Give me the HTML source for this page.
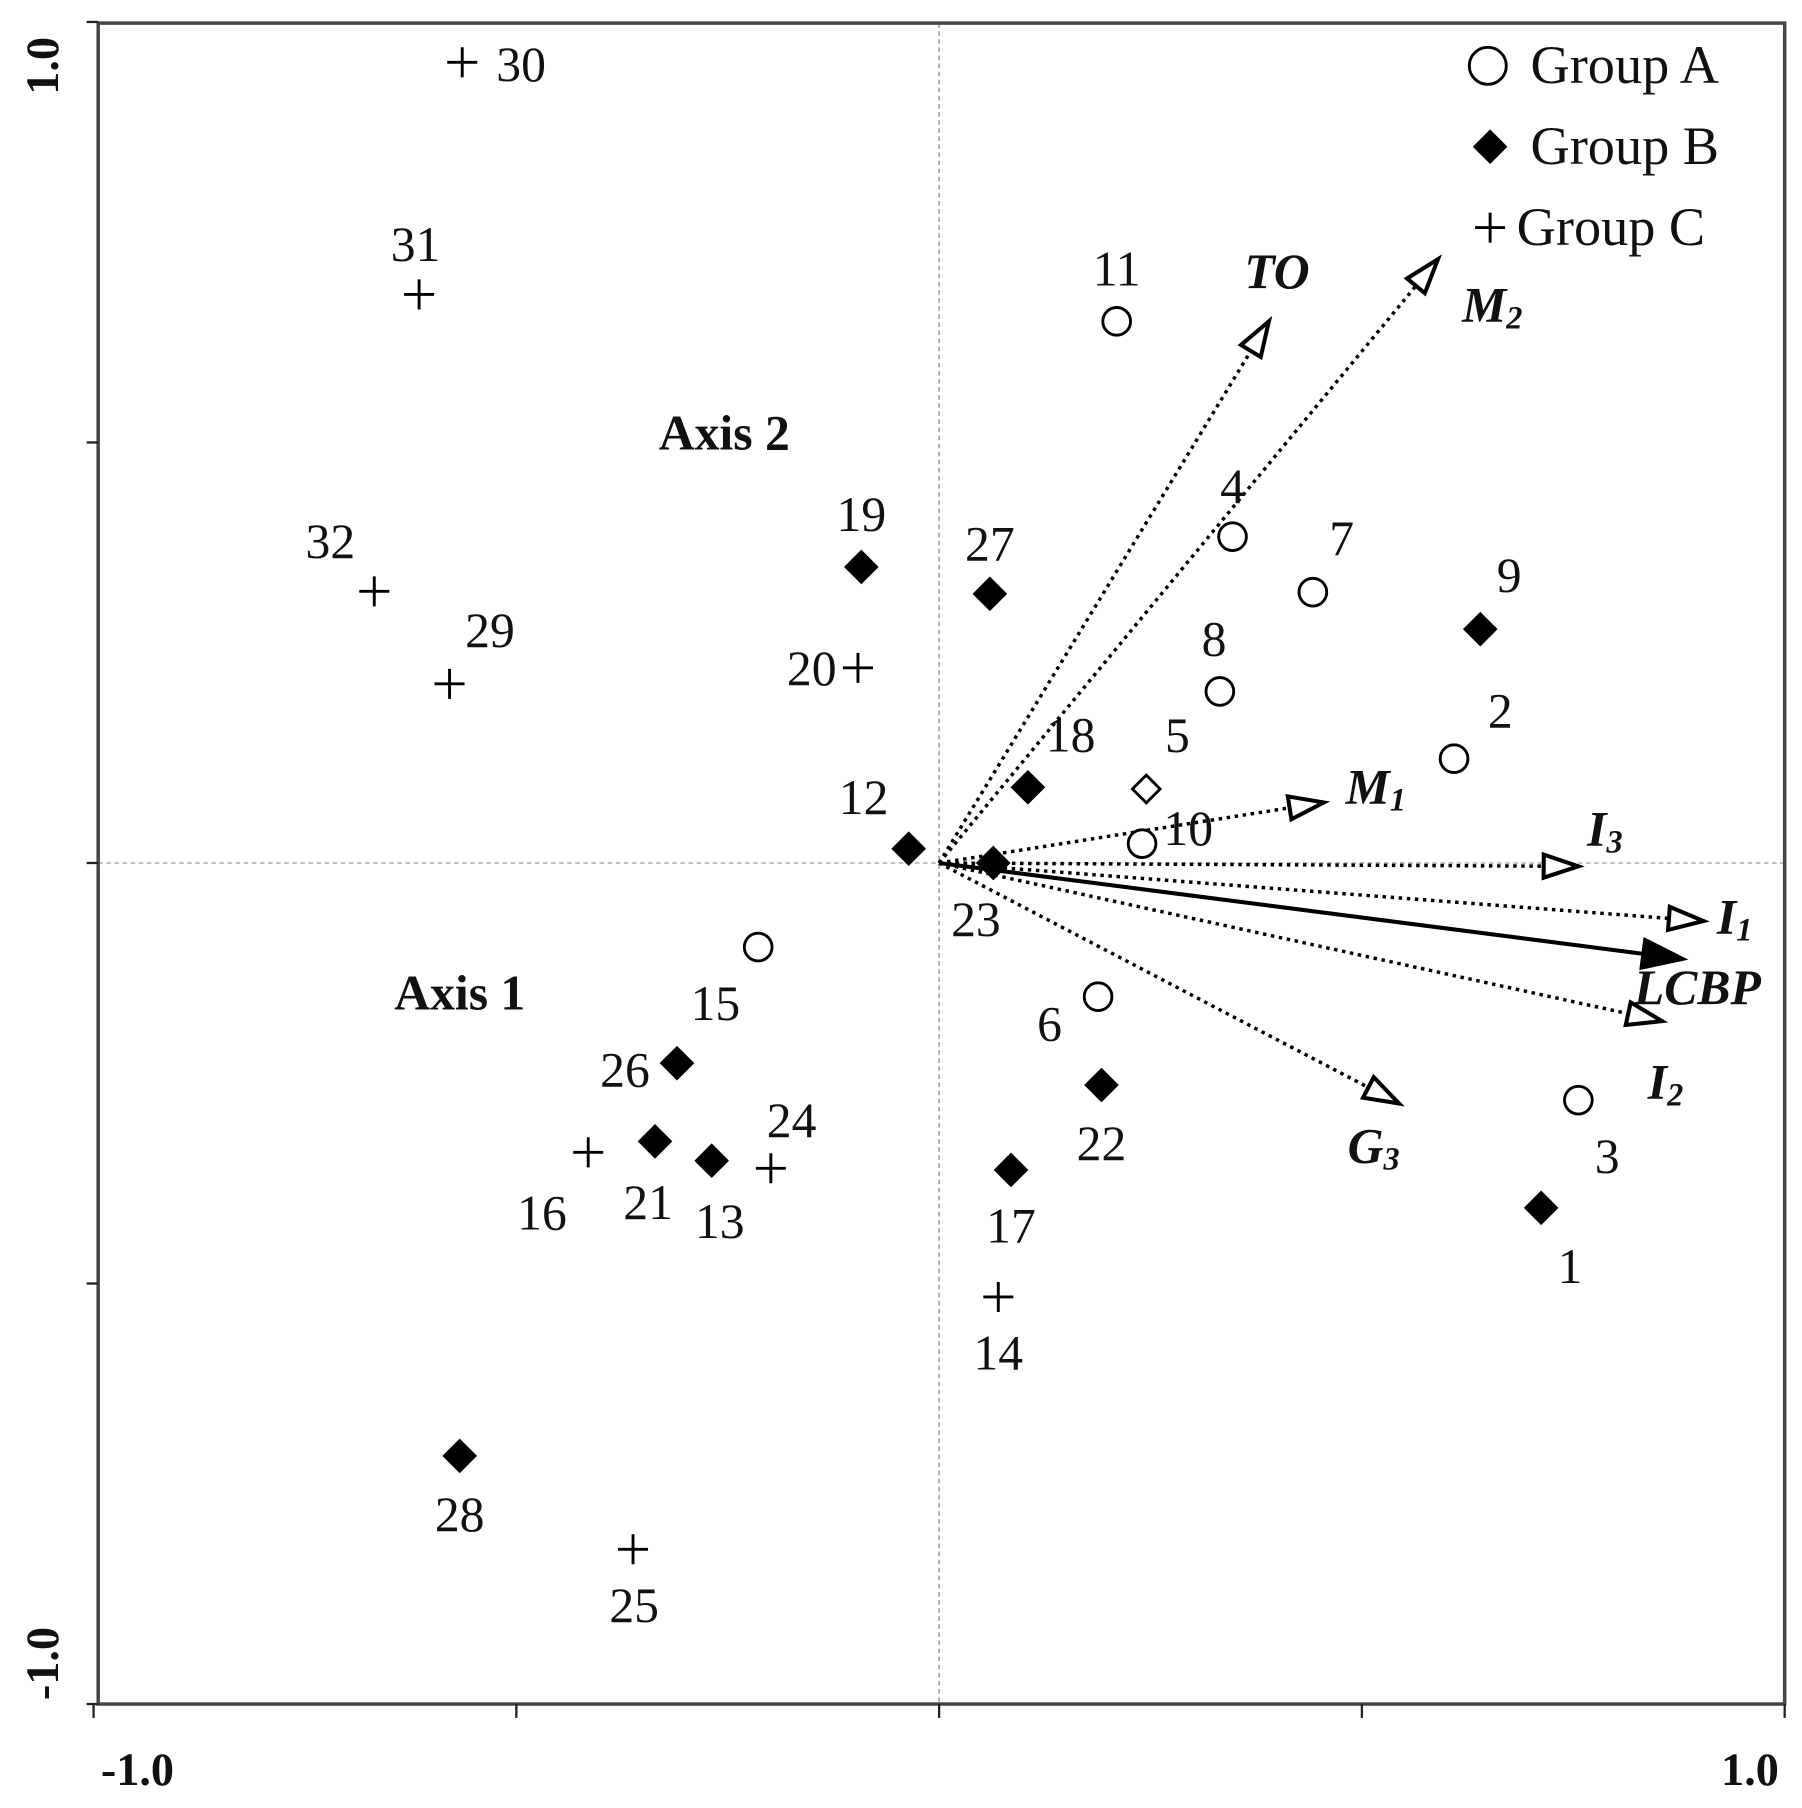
<!DOCTYPE html>
<html><head><meta charset="utf-8"><style>
html,body{margin:0;padding:0;background:#fff;}
svg{display:block;}
text{font-family:"Liberation Serif",serif;fill:#111;}
</style></head><body>
<svg id="chart" width="1802" height="1808" viewBox="0 0 1560 1565" preserveAspectRatio="none" xmlns="http://www.w3.org/2000/svg">
<g id="axes"></g>
<g id="vectors"></g>
<g id="points"></g>
<g id="legend"></g>
</svg>
<script>
// ---- data ----
const ptLabels = ["11","4","7","8","2","10","15","6","3","5","19","27","9","18","12","23","26","22","21","13","17","1","28","30","31","32","29","20","16","24","14","25"];
const ptGroups = ["A","A","A","A","A","A","A","A","A","D","B","B","B","B","B","B","B","B","B","B","B","B","B","C","C","C","C","C","C","C","C","C"];
const ptX = [0.21,0.347,0.442,0.332,0.609,0.24,-0.214,0.188,0.756,0.245,-0.092,0.060,0.640,0.105,-0.036,0.064,-0.310,0.192,-0.336,-0.269,0.085,0.712,-0.567,-0.564,-0.615,-0.668,-0.579,-0.096,-0.415,-0.199,0.070,-0.362];
const ptY = [0.644,0.388,0.322,0.204,0.124,0.023,-0.100,-0.159,-0.282,0.088,0.352,0.320,0.278,0.090,0.017,0.0,-0.238,-0.264,-0.331,-0.354,-0.365,-0.410,-0.705,0.952,0.676,0.323,0.213,0.232,-0.344,-0.363,-0.516,-0.816];
const vecNames = ["TO","M2","M1","I3","I1","LCBP","I2","G3"];
const vecX = [0.390,0.590,0.455,0.756,0.904,0.879,0.855,0.544];
const vecY = [0.644,0.718,0.072,-0.004,-0.069,-0.114,-0.188,-0.286];
const tickVals = [-1,-0.5,0,0.5,1];
const tickLabels = ["-1.0","1.0"];
// ---- layout (not data) ----
const L=85,R=1545,T=20,B=1475,CX=813,CY=747;
const sx=v=>CX+v*(R-CX), sy=v=>CY-v*(B-CY);
const labOff = {"11":[0,-34],"4":[0,-32],"7":[25,-35],"8":[-5,-34],"2":[40,-30],"10":[40,-2],"15":[-37,60],"6":[-42,35],"3":[25,60],"5":[27,-35],
"19":[0,-34],"27":[0,-32],"9":[25,-35],"18":[37,-34],"12":[-39,-33],"23":[-15,60],"26":[-45,17],"22":[0,62],"21":[-6,64],"13":[7,64],"17":[0,60],"1":[25,62],"28":[0,62],
"30":[51,13],"31":[-3,-32],"32":[-38,-32],"29":[35,-35],"20":[-40,12],"16":[-40,64],"24":[18,-30],"14":[0,60],"25":[1,60]};
const vecLab = {"TO":[7,-25],"M2":[47,58],"M1":[45,5],"I3":[23,-14],"I1":[27,15],"LCBP":[13,43],"I2":[3,71],"G3":[-22,55]};
const NS="http://www.w3.org/2000/svg";
function mk(tag,attrs,parent){const e=document.createElementNS(NS,tag);for(const k in attrs)e.setAttribute(k,attrs[k]);parent.appendChild(e);return e;}
const ax=document.getElementById('axes');
let z=mk('line',{x1:sx(0),x2:sx(0),y1:T,y2:B,stroke:'#999','stroke-width':1.3,'stroke-dasharray':'4,3'},ax);


z=mk('line',{x1:L,x2:R,y1:sy(0),y2:sy(0),stroke:'#aaa','stroke-width':1.3,'stroke-dasharray':'4,3'},ax);


let fr=mk('rect',{x:L,y:T,width:R-L,height:B-T,fill:'none',stroke:'#444','stroke-width':3},ax);


tickVals.forEach(v=>{
 let t=mk('line',{x1:sx(v),x2:sx(v),y1:B,y2:B+12,stroke:'#222','stroke-width':2},ax);
 
 
 t=mk('line',{x1:L-10,x2:L,y1:sy(v),y2:sy(v),stroke:'#222','stroke-width':2},ax);
 
 
});
let tl=mk('text',{x:sx(-1)+38,y:B+70,'font-size':40,'font-weight':'bold','text-anchor':'middle'},ax);tl.textContent=tickLabels[0];


tl=mk('text',{x:sx(1)-30,y:B+70,'font-size':40,'font-weight':'bold','text-anchor':'middle'},ax);tl.textContent=tickLabels[1];


tl=mk('text',{x:0,y:0,'font-size':40,'font-weight':'bold','text-anchor':'middle',transform:`translate(50,${sy(1)+38}) rotate(-90)`},ax);tl.textContent=tickLabels[1];


tl=mk('text',{x:0,y:0,'font-size':40,'font-weight':'bold','text-anchor':'middle',transform:`translate(50,${sy(-1)-35}) rotate(-90)`},ax);tl.textContent=tickLabels[0];


let at=mk('text',{x:627,y:389,'font-size':43,'font-weight':'bold','text-anchor':'middle'},ax);at.textContent='Axis 2';


at=mk('text',{x:398,y:874,'font-size':43,'font-weight':'bold','text-anchor':'middle'},ax);at.textContent='Axis 1';


const vg=document.getElementById('vectors');
const subs={"M2":["M","2"],"M1":["M","1"],"I3":["I","3"],"I1":["I","1"],"I2":["I","2"],"G3":["G","3"]};
vecNames.forEach((n,i)=>{
 const x2=sx(vecX[i]),y2=sy(vecY[i]),x1=sx(0),y1=sy(0);
 const solid=n==="LCBP";
 const ang=Math.atan2(y2-y1,x2-x1);
 const hl=solid?34:30,hw=solid?12:10;
 const bx=x2-hl*Math.cos(ang),by=y2-hl*Math.sin(ang);
 let ln=mk('line',{x1:x1,y1:y1,x2:bx,y2:by,stroke:'#000','stroke-width':solid?3.5:3,'stroke-dasharray':solid?'none':'3,4'},vg);
 
 
 const px=-Math.sin(ang),py=Math.cos(ang);
 let hd=mk('polygon',{points:`${x2},${y2} ${bx+px*hw},${by+py*hw} ${bx-px*hw},${by-py*hw}`,fill:solid?'#000':'#fff',stroke:'#000','stroke-width':3.5},vg);
 
 
 const o=vecLab[n];
 let t=mk('text',{x:x2+o[0],y:y2+o[1]-4,'font-size':43,'font-style':'italic','font-weight':'bold','text-anchor':'middle'},vg);
 if(subs[n]){t.textContent=subs[n][0];const s=mk('tspan',{'font-size':28,dy:6},t);s.textContent=subs[n][1];}
 else t.textContent=n;
 
 
});
const pg=document.getElementById('points');
function marker(g,x,y,parent){
 let e;
 if(g==="A") e=mk('circle',{cx:x,cy:y,r:12,fill:'#fff',stroke:'#000','stroke-width':2.5},parent);
 else if(g==="B") e=mk('polygon',{points:`${x},${y-15} ${x+15},${y} ${x},${y+15} ${x-15},${y}`,fill:'#000'},parent);
 else if(g==="D") e=mk('polygon',{points:`${x},${y-12} ${x+12},${y} ${x},${y+12} ${x-12},${y}`,fill:'#fff',stroke:'#000','stroke-width':2.5},parent);
 else e=mk('path',{d:`M${x-13},${y}H${x+13}M${x},${y-13}V${y+13}`,stroke:'#000','stroke-width':2.5,fill:'none'},parent);
 return e;
}
ptLabels.forEach((lab,i)=>{
 const x=sx(ptX[i]),y=sy(ptY[i]);
 const m=marker(ptGroups[i],x,y,pg);
 
 
 const o=labOff[lab]||[0,-32];
 const t=mk('text',{x:x+o[0],y:y+o[1]+3,'font-size':43,'text-anchor':'middle'},pg);
 t.textContent=lab;
 
 
});
const lg=document.getElementById('legend');
[["A",1288,57,"Group A",1325],["B",1290,127,"Group B",1325],["C",1290,197,"Group C",1313]].forEach(r=>{
 const m=marker(r[0],r[1],r[2],lg);
 if(r[0]==="A"){m.setAttribute('r',16);}
 
 
 const t=mk('text',{x:r[4],y:r[2]+15,'font-size':47},lg);t.textContent=r[3];
 
 
});
</script>
</body></html>
